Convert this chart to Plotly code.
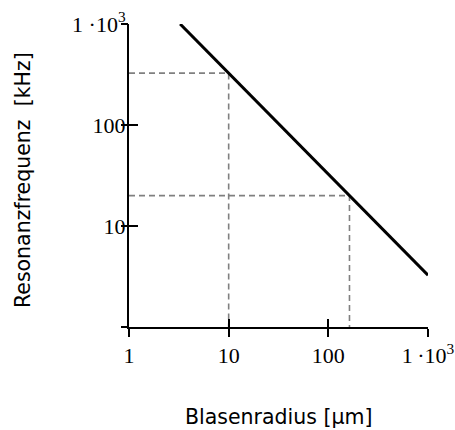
import plotly.graph_objects as go

# Data
radius_um = [3.26, 10, 100, 163, 1000]          # Blasenradius [µm]
freq_khz = [1000, 326, 32.6, 20, 3.26]           # Resonanzfrequenz [kHz]

# Reference (dashed) lines
ref_radius = [10, 163]
ref_freq = [326, 20]

tick_vals = [1, 10, 100, 1000]
x_tick_text = ["1", "10", "100", "1\u2009·10<sup>3</sup>"]
y_tick_text = ["", "10", "100", "1 ·10<sup>3</sup>"]

axis_min = 1

fig = go.Figure()

for r, f in zip(ref_radius, ref_freq):
    fig.add_trace(go.Scatter(
        x=[axis_min, r, r], y=[f, f, axis_min], mode="lines",
        line=dict(color="#808080", width=1.6, dash="6px,4px"),
        hoverinfo="skip", showlegend=False))

fig.add_trace(go.Scatter(
    x=radius_um, y=freq_khz, mode="lines",
    line=dict(color="black", width=3),
    showlegend=False))

# empty trace to make the overlay axes exist
fig.add_trace(go.Scatter(x=[], y=[], xaxis="x2", yaxis="y2", showlegend=False))

tick_font = dict(family="Liberation Serif, Times New Roman, serif", size=22, color="black")
title_font = dict(family="DejaVu Sans, Arial, sans-serif", size=20.5, color="black")

fig.update_layout(
    width=455, height=430,
    margin=dict(l=129, r=27, t=24, b=103),
    paper_bgcolor="white", plot_bgcolor="white",
    xaxis=dict(type="log", range=[0, 3], tickvals=tick_vals, ticktext=x_tick_text,
               ticks="outside", ticklen=8, tickwidth=1.6, tickcolor="black",
               showline=True, linewidth=2, linecolor="black", automargin=False,
               showgrid=False, zeroline=False, tickfont=tick_font),
    yaxis=dict(type="log", range=[0, 3], tickvals=tick_vals, ticktext=y_tick_text,
               ticks="inside", ticklen=9, tickwidth=1.6, tickcolor="black",
               ticklabelstandoff=-3,
               showline=True, linewidth=2, linecolor="black", automargin=False,
               showgrid=False, zeroline=False, tickfont=tick_font),
    xaxis2=dict(type="log", range=[0, 3], tickvals=tick_vals, overlaying="x",
                anchor="y", side="bottom", ticks="inside", ticklen=8, tickwidth=1.6,
                tickcolor="black", showticklabels=False, showline=False,
                automargin=False, showgrid=False, zeroline=False),
    yaxis2=dict(type="log", range=[0, 3], tickvals=tick_vals, overlaying="y",
                anchor="x", side="left", ticks="outside", ticklen=7, tickwidth=1.6,
                tickcolor="black", showticklabels=False, showline=False,
                automargin=False, showgrid=False, zeroline=False),
    annotations=[
        dict(text="Resonanzfrequenz\u00a0 [kHz]", xref="paper", yref="paper",
             x=-0.3545, y=0.485, xanchor="center", yanchor="middle",
             textangle=-90, showarrow=False, font=title_font),
        dict(text="Blasenradius [µm]", xref="paper", yref="paper",
             x=0.502, y=-0.297, xanchor="center", yanchor="middle",
             showarrow=False, font=title_font),
    ],
)

fig.write_html("out.html")
